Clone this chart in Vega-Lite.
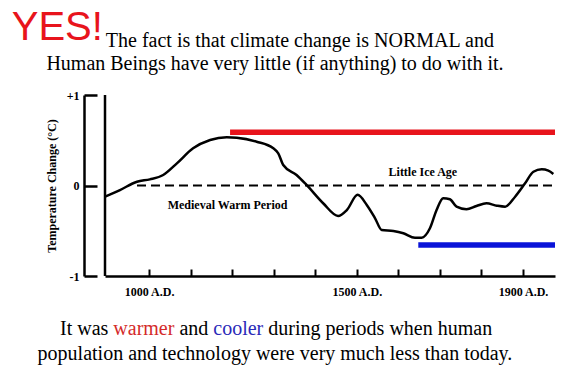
{
  "$schema": "https://vega.github.io/schema/vega-lite/v6.json",
  "width": 450,
  "height": 181,
  "autosize": {"type": "none"},
  "padding": {"left": 105, "top": 95, "right": 16, "bottom": 101},
  "background": "white",
  "config": {"view": {"stroke": null}, "font": "Liberation Serif"},
  "data": {"values": [{}]},
  "datasets": {
    "curve": [
      {"year": 894, "temp": -0.124}, {"year": 930, "temp": -0.05}, {"year": 971, "temp": 0.042},
      {"year": 1002, "temp": 0.068}, {"year": 1034, "temp": 0.116}, {"year": 1067, "temp": 0.245},
      {"year": 1106, "temp": 0.411}, {"year": 1147, "temp": 0.503}, {"year": 1187, "temp": 0.533},
      {"year": 1211, "temp": 0.528}, {"year": 1259, "temp": 0.484}, {"year": 1299, "temp": 0.411},
      {"year": 1311, "temp": 0.356}, {"year": 1323, "temp": 0.227}, {"year": 1355, "temp": 0.116},
      {"year": 1379, "temp": 0.006}, {"year": 1419, "temp": -0.196}, {"year": 1455, "temp": -0.337},
      {"year": 1476, "temp": -0.271}, {"year": 1502, "temp": -0.103}, {"year": 1524, "temp": -0.215},
      {"year": 1544, "temp": -0.362}, {"year": 1560, "temp": -0.492}, {"year": 1588, "temp": -0.503},
      {"year": 1612, "temp": -0.528}, {"year": 1640, "temp": -0.577}, {"year": 1656, "temp": -0.577},
      {"year": 1676, "temp": -0.473}, {"year": 1692, "temp": -0.271}, {"year": 1708, "temp": -0.141},
      {"year": 1724, "temp": -0.152}, {"year": 1740, "temp": -0.234}, {"year": 1764, "temp": -0.263},
      {"year": 1788, "temp": -0.227}, {"year": 1812, "temp": -0.197}, {"year": 1837, "temp": -0.223},
      {"year": 1857, "temp": -0.234}, {"year": 1881, "temp": -0.124}, {"year": 1905, "temp": 0.024},
      {"year": 1925, "temp": 0.152}, {"year": 1945, "temp": 0.179}, {"year": 1961, "temp": 0.164},
      {"year": 1973, "temp": 0.127}
    ],
    "periods": [
      {"period": "warmer", "start": 1195, "end": 1977, "temp": 0.588},
      {"period": "cooler", "start": 1648, "end": 1977, "temp": -0.657}
    ],
    "baseline": [{"start": 971, "end": 1977, "temp": 0}],
    "labels": [
      {"label": "Little Ice Age", "year": 1659, "temp": 0.15},
      {"label": "Medieval Warm Period", "year": 1189, "temp": -0.215}
    ]
  },
  "layer": [
    {
      "data": {"name": "curve"},
      "mark": {"type": "line", "color": "black", "strokeWidth": 2.5, "interpolate": "monotone"},
      "encoding": {
        "x": {
          "field": "year", "type": "quantitative",
          "scale": {"domain": [894, 1977], "nice": false, "zero": false},
          "axis": {
            "values": [1000, 1100, 1200, 1300, 1400, 1500, 1600, 1700, 1800, 1900],
            "labelExpr": "indexof([1000, 1500, 1900], datum.value) >= 0 ? datum.value + ' A.D.' : ''",
            "grid": false, "title": null,
            "domainColor": "black", "domainWidth": 2.5,
            "tickColor": "black", "tickWidth": 2, "tickSize": -7,
            "labelFont": "Liberation Serif", "labelFontWeight": "bold", "labelFontSize": 12,
            "labelColor": "black", "labelPadding": 17, "labelFlush": false, "labelOverlap": false
          }
        },
        "y": {
          "field": "temp", "type": "quantitative",
          "scale": {"domain": [-1, 1], "nice": false, "zero": false},
          "axis": {
            "values": [-1, 0, 1],
            "labelExpr": "datum.value == 1 ? '+1' : datum.value == -1 ? '-1' : '0'",
            "grid": false, "offset": 21,
            "title": "Temperature Change (°C)",
            "titleFont": "Liberation Serif", "titleFontWeight": "bold", "titleFontSize": 12,
            "titleColor": "black", "titlePadding": 8,
            "domainColor": "black", "domainWidth": 2.5,
            "tickColor": "black", "tickWidth": 2.5, "tickSize": -13,
            "labelFont": "Liberation Serif", "labelFontWeight": "bold", "labelFontSize": 12,
            "labelColor": "black", "labelPadding": 18
          }
        }
      }
    },
    {
      "mark": {"type": "rule", "color": "black", "strokeWidth": 2.5},
      "encoding": {
        "x": {"datum": 894, "type": "quantitative"},
        "y": {"datum": -1, "type": "quantitative"},
        "y2": {"datum": 1}
      }
    },
    {
      "data": {"name": "baseline"},
      "mark": {"type": "rule", "color": "black", "strokeWidth": 2, "strokeDash": [9, 5]},
      "encoding": {
        "x": {"field": "start", "type": "quantitative"},
        "x2": {"field": "end"},
        "y": {"field": "temp", "type": "quantitative"}
      }
    },
    {
      "data": {"name": "periods"},
      "mark": {"type": "rule", "strokeWidth": 5.5},
      "encoding": {
        "x": {"field": "start", "type": "quantitative"},
        "x2": {"field": "end"},
        "y": {"field": "temp", "type": "quantitative"},
        "color": {"field": "period", "type": "nominal", "scale": {"domain": ["warmer", "cooler"], "range": ["#e8141c", "#0a14d8"]}, "legend": null}
      }
    },
    {
      "data": {"name": "labels"},
      "mark": {"type": "text", "font": "Liberation Serif", "fontWeight": "bold", "fontSize": 12, "color": "black", "align": "center", "baseline": "middle"},
      "encoding": {
        "x": {"field": "year", "type": "quantitative"},
        "y": {"field": "temp", "type": "quantitative"},
        "text": {"field": "label"}
      }
    },
    {
      "mark": {"type": "text", "text": "YES!", "font": "Liberation Sans", "fontSize": 40, "color": "#e8141c", "align": "left", "baseline": "alphabetic"},
      "encoding": {"x": {"datum": 669.5, "type": "quantitative"}, "y": {"datum": 1.608, "type": "quantitative"}}
    },
    {
      "mark": {"type": "text", "text": "The fact is that climate change is NORMAL and", "font": "Liberation Serif", "fontSize": 20, "color": "black", "align": "center", "baseline": "alphabetic"},
      "encoding": {"x": {"datum": 1363, "type": "quantitative"}, "y": {"datum": 1.53, "type": "quantitative"}}
    },
    {
      "mark": {"type": "text", "text": "Human Beings have very little (if anything) to do with it.", "font": "Liberation Serif", "fontSize": 20, "color": "black", "align": "center", "baseline": "alphabetic"},
      "encoding": {"x": {"datum": 1303, "type": "quantitative"}, "y": {"datum": 1.276, "type": "quantitative"}}
    },
    {
      "mark": {"type": "text", "text": "It was", "font": "Liberation Serif", "fontSize": 20, "color": "black", "align": "left", "baseline": "alphabetic"},
      "encoding": {"x": {"datum": 785.7, "type": "quantitative"}, "y": {"datum": -1.652, "type": "quantitative"}}
    },
    {
      "mark": {"type": "text", "text": "warmer", "font": "Liberation Serif", "fontSize": 20, "color": "#d42a2a", "align": "left", "baseline": "alphabetic"},
      "encoding": {"x": {"datum": 914, "type": "quantitative"}, "y": {"datum": -1.652, "type": "quantitative"}}
    },
    {
      "mark": {"type": "text", "text": "and", "font": "Liberation Serif", "fontSize": 20, "color": "black", "align": "left", "baseline": "alphabetic"},
      "encoding": {"x": {"datum": 1073, "type": "quantitative"}, "y": {"datum": -1.652, "type": "quantitative"}}
    },
    {
      "mark": {"type": "text", "text": "cooler", "font": "Liberation Serif", "fontSize": 20, "color": "#2a2ab8", "align": "left", "baseline": "alphabetic"},
      "encoding": {"x": {"datum": 1154.6, "type": "quantitative"}, "y": {"datum": -1.652, "type": "quantitative"}}
    },
    {
      "mark": {"type": "text", "text": "during periods when human", "font": "Liberation Serif", "fontSize": 20, "color": "black", "align": "left", "baseline": "alphabetic"},
      "encoding": {"x": {"datum": 1287, "type": "quantitative"}, "y": {"datum": -1.652, "type": "quantitative"}}
    },
    {
      "mark": {"type": "text", "text": "population and technology were very much less than today.", "font": "Liberation Serif", "fontSize": 20, "color": "black", "align": "center", "baseline": "alphabetic"},
      "encoding": {"x": {"datum": 1303, "type": "quantitative"}, "y": {"datum": -1.928, "type": "quantitative"}}
    }
  ]
}
